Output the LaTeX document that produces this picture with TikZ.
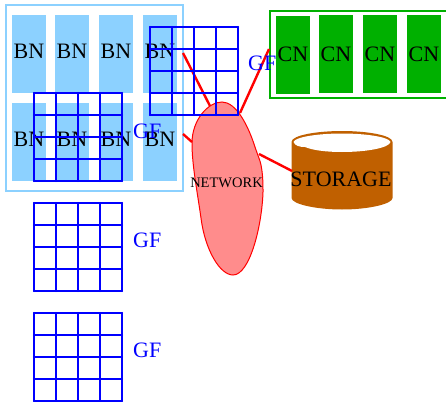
\documentclass[tikz,border=0pt]{standalone}
\usepackage{fontspec}
\setmainfont{Liberation Serif}
\definecolor{bnblue}{HTML}{8CD1FF}
\definecolor{cngreen}{HTML}{00B000}
\definecolor{netpink}{HTML}{FF8C8C}
\definecolor{storebrown}{HTML}{C06000}
\newcommand{\lowlab}[2]{\smash{\raisebox{-#1pt}{#2}}}
\tikzset{
  x=1pt,y=-1pt,
  bigtext/.style={font=\fontsize{22}{22}\selectfont},
  bnbox/.style={rectangle,fill=bnblue,inner sep=0pt,minimum width=34pt,minimum height=78pt,bigtext,text=black},
  cnbox/.style={rectangle,fill=cngreen,inner sep=0pt,minimum width=34pt,minimum height=78pt,bigtext,text=black},
  bnframe/.style={rectangle,draw=bnblue,line width=2pt,inner sep=0pt,minimum width=177pt,minimum height=186pt},
  cnframe/.style={rectangle,draw=cngreen,line width=2pt,inner sep=0pt,minimum width=178pt,minimum height=87pt},
  gflabel/.style={anchor=base west,inner sep=0pt,bigtext,text=blue},
  gridline/.style={draw=blue,line width=2.4pt,line cap=round},
  netlink/.style={draw=red,line width=2.4pt},
}
\begin{document}
\begin{tikzpicture}
\clip (0,0) rectangle (446,401);
\useasboundingbox (0,0) rectangle (446,401);
% frames
\node[bnframe] (bnf) at (94.5,98) {};
\node[cnframe] (cnf) at (359,54.5) {};
% BN boxes
\node[bnbox] (b1) at (29,54) {\lowlab{4.5}{BN}};
\node[bnbox] (b2) at (72,54) {\lowlab{4.5}{BN}};
\node[bnbox] (b3) at (116,54) {\lowlab{4.5}{BN}};
\node[bnbox] (b4) at (160,54) {\lowlab{4.5}{BN}};
\node[bnbox] (b5) at (29,142) {\lowlab{4.5}{BN}};
\node[bnbox] (b6) at (72,142) {\lowlab{4.5}{BN}};
\node[bnbox] (b7) at (116,142) {\lowlab{4.5}{BN}};
\node[bnbox] (b8) at (160,142) {\lowlab{4.5}{BN}};
% CN boxes
\node[cnbox] (c1) at (293,55) {\lowlab{7}{CN}};
\node[cnbox] (c2) at (336,54) {\lowlab{8}{CN}};
\node[cnbox] (c3) at (380,54) {\lowlab{8}{CN}};
\node[cnbox] (c4) at (424,54) {\lowlab{8}{CN}};
% network
\fill[netpink,draw=red,line width=1pt] (222,102)
  .. controls (236,102) and (248,125) .. (255,147)
  .. controls (258,156) and (260,160) .. (261,165)
  .. controls (263,175) and (263,185) .. (263,192)
  .. controls (262,225) and (250,275) .. (233,275)
  .. controls (220,275) and (205,250) .. (201,218)
  .. controls (197,190) and (192,165) .. (192,143)
  .. controls (192,120) and (208,102) .. (222,102) -- cycle;
\node[anchor=base,inner sep=0pt,font=\fontsize{14.5}{14.5}\selectfont] (net) at (226.5,187) {NETWORK};
% storage
\fill[storebrown] (291.5,142) .. controls (291.5,135) and (318,131) .. (342,131)
  .. controls (366,131) and (392.5,135) .. (392.5,142) -- (392.5,198)
  .. controls (392.5,204) and (368,209.5) .. (342,209.5)
  .. controls (316,209.5) and (291.5,204) .. (291.5,198) -- cycle;
\fill[white] (293.5,142) .. controls (295,137) and (318,133.5) .. (342,133.5)
  .. controls (366,133.5) and (389,137) .. (390.5,142)
  .. controls (389,148) and (366,152) .. (342,152)
  .. controls (325,152) and (312,150) .. (305,147)
  .. controls (300,147) and (295,146) .. (293.5,142) -- cycle;
\node[anchor=base,inner sep=0pt,bigtext] (store) at (341,186) {STORAGE};
% connector ends
\coordinate (l1a) at (183,53);
\coordinate (l1b) at (210,106);
\coordinate (l2a) at (240,113);
\coordinate (l2b) at (269,49);
\coordinate (l3a) at (183,134);
\coordinate (l3b) at (192,142);
\coordinate (l4a) at (259,154);
\coordinate (l4b) at (292,171);
\draw[netlink] (l1a) -- (l1b);
\draw[netlink] (l2a) -- (l2b);
\draw[netlink] (l3a) -- (l3b);
\draw[netlink] (l4a) -- (l4b);
% grids
\foreach \ox/\oy in {34/93,150/27,34/203,34/313}{
  \foreach \k in {0,...,4}{
    \draw[gridline] ({\ox+22*\k},\oy) -- ({\ox+22*\k},{\oy+88});
    \draw[gridline] (\ox,{\oy+22*\k}) -- ({\ox+88},{\oy+22*\k});
  }
}
\node[gflabel] (g1) at (133,138) {GF};
\node[gflabel] (g2) at (248,71) {GF};
\node[gflabel] (g3) at (133,247) {GF};
\node[gflabel] (g4) at (133,357) {GF};
\end{tikzpicture}
\end{document}
